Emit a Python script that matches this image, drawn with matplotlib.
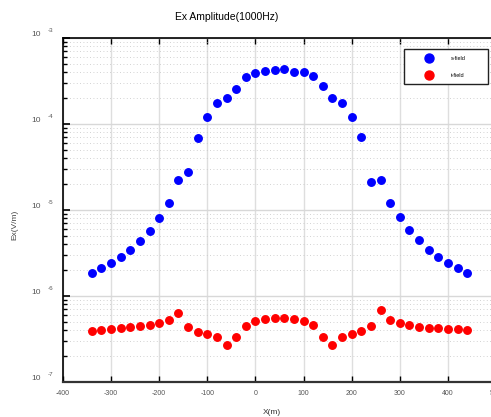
import matplotlib
matplotlib.use("Agg")
import matplotlib.pyplot as plt
from matplotlib.patches import Rectangle
import numpy as np

plt.rcParams['font.family'] = ['Liberation Sans', 'DejaVu Sans']

# station positions (m)
x = list(range(-340, 441, 20))

s_field = [1.87e-6, 2.1e-6, 2.42e-6, 2.84e-6, 3.4e-6, 4.33e-6, 5.75e-6, 8.1e-6,
           1.2e-5, 2.25e-5, 2.79e-5, 6.94e-5, 1.2e-4, 1.75e-4, 1.99e-4, 2.57e-4,
           3.52e-4, 3.88e-4, 4.09e-4, 4.25e-4, 4.33e-4, 4.06e-4, 3.99e-4, 3.65e-4,
           2.77e-4, 1.99e-4, 1.75e-4, 1.2e-4, 7.0e-5, 2.13e-5, 2.21e-5, 1.2e-5,
           8.2e-6, 5.8e-6, 4.48e-6, 3.45e-6, 2.86e-6, 2.42e-6, 2.12e-6, 1.87e-6]

t_field = [3.95e-7, 4.03e-7, 4.1e-7, 4.21e-7, 4.32e-7, 4.48e-7, 4.6e-7, 4.86e-7,
           5.21e-7, 6.34e-7, 4.32e-7, 3.81e-7, 3.58e-7, 3.33e-7, 2.72e-7, 3.31e-7,
           4.52e-7, 5.08e-7, 5.36e-7, 5.5e-7, 5.5e-7, 5.41e-7, 5.08e-7, 4.56e-7,
           3.31e-7, 2.72e-7, 3.33e-7, 3.58e-7, 3.89e-7, 4.48e-7, 6.87e-7, 5.21e-7,
           4.81e-7, 4.6e-7, 4.37e-7, 4.28e-7, 4.21e-7, 4.13e-7, 4.1e-7, 3.99e-7]

xticks = [-400, -300, -200, -100, 0, 100, 200, 300, 400, 500]
ydecades = [-7, -6, -5, -4, -3]

W, H = 491, 417
fig = plt.figure(figsize=(W / 100, H / 100), dpi=100)
ax = fig.add_axes([63 / W, 1 - 382 / H, (496 - 63) / W, (382 - 38) / H])

ax.set_yscale('log')
ax.set_xlim(-400, 500)
ax.set_ylim(1e-7, 1e-3)

ax.plot(x, s_field, 'o', color='blue', markersize=5.4, label='s-field')
ax.plot(x, t_field, 'o', color='red', markersize=5.4, label='t-field')

# grids
ax.set_axisbelow(True)
ax.grid(which='major', axis='x', color='#dedede', linestyle='-', linewidth=1)
ax.grid(which='major', axis='y', color='#d8d8d8', linestyle='-', linewidth=1)
ax.grid(which='minor', axis='y', color='#c4c4c4', linestyle=(0, (1, 3)), linewidth=0.6)

ax.set_xticks(xticks)
ax.set_xticklabels([str(v) for v in xticks])
ax.tick_params(axis='x', which='both', direction='in', top=True, length=4, width=1,
               labelsize=5, labelcolor='#555555', pad=6)
ax.tick_params(axis='y', which='major', direction='in', length=5, width=1.2, labelleft=False)
ax.tick_params(axis='y', which='minor', direction='in', length=3, width=1)

for sp in ['left', 'top']:
    ax.spines[sp].set_linewidth(1.2)
ax.spines['bottom'].set_linewidth(1.6)
ax.spines['bottom'].set_color('#333333')

# old style decade labels: "10" with a raised exponent
ytr = ax.get_yaxis_transform()
for d in ydecades:
    ax.text(-0.052, 10.0 ** d * 10 ** 0.035, '10', transform=ytr, ha='right', va='center',
            fontsize=6, color='#555555', clip_on=False)
    ax.text(-0.035, 10.0 ** d * 10 ** 0.09, str(d), transform=ytr, ha='left', va='center',
            fontsize=4.5, color='#555555', clip_on=False)

fig.text(227 / W, 1 - 17 / H, 'Ex Amplitude(1000Hz)', ha='center', va='center', fontsize=7.5)
fig.text(272 / W, 1 - 413 / H, 'X(m)', ha='center', va='center', fontsize=6, color='#333333')
fig.text(15 / W, 1 - 225 / H, 'Ex(V/m)', ha='center', va='center', rotation=90,
         fontsize=6, color='#444444')

# legend
box = Rectangle((404 / W, 1 - 84 / H), (488 - 404) / W, (84 - 49) / H,
                transform=fig.transFigure, facecolor='white', edgecolor='#222222',
                linewidth=1, zorder=5, clip_on=False)
ax.add_patch(box)
leg = ax.legend(loc='upper left', bbox_to_anchor=(414 / W, 1 - 50 / H),
                bbox_transform=fig.transFigure, frameon=False, fontsize=4,
                handlelength=3.5, handletextpad=2.2, labelspacing=2.2,
                borderpad=0.5, markerscale=1.2)
leg.set_zorder(6)

fig.savefig('out.png', dpi=100)
